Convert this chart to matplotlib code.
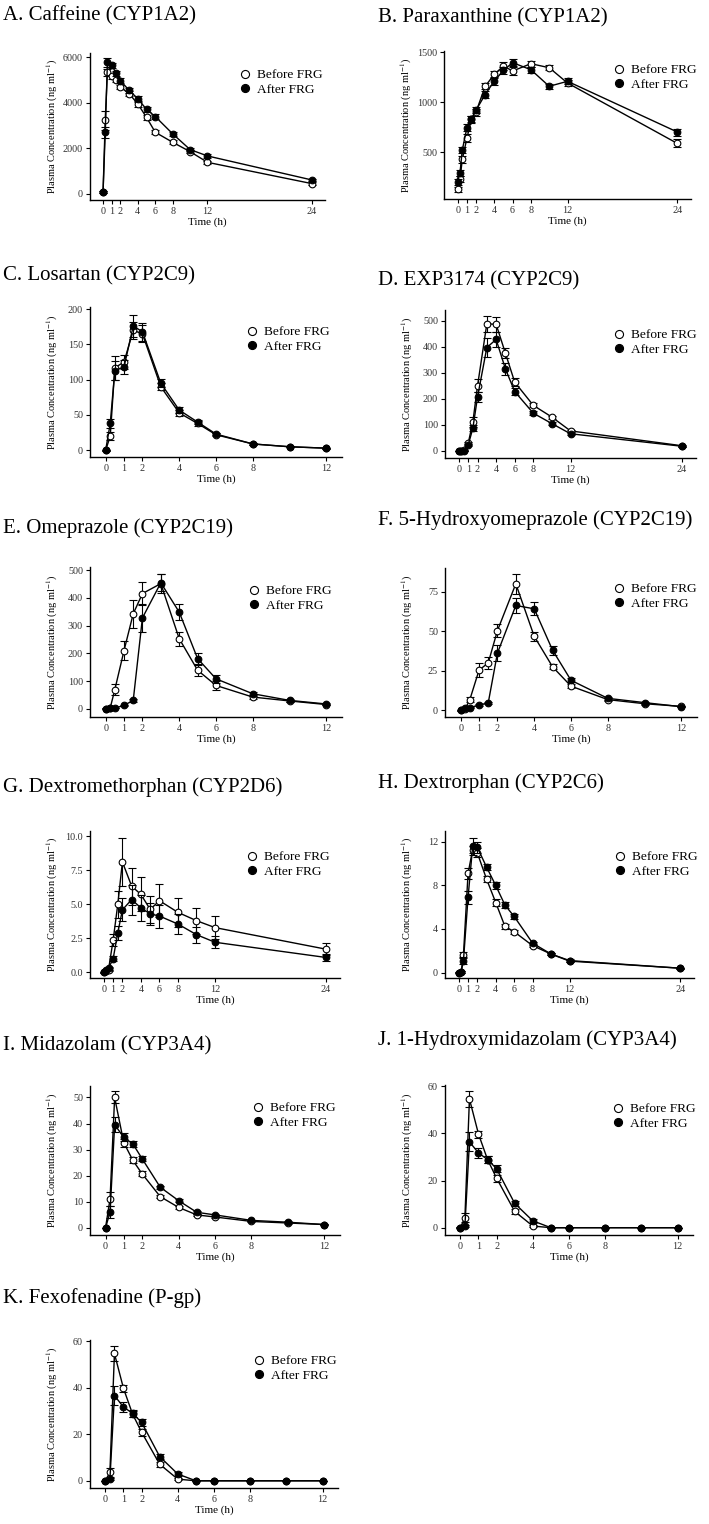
import numpy as np
import matplotlib
matplotlib.use('Agg')
import matplotlib.pyplot as plt
from matplotlib.lines import Line2D

plt.rcParams['font.family'] = ['Liberation Serif', 'DejaVu Serif']
plt.rcParams['mathtext.fontset'] = 'stix'

W, H = 709, 1524

# sampling times (h)
t24 = [0, 0.25, 0.5, 1, 1.5, 2, 3, 4, 5, 6, 8, 10, 12, 24]
t12 = t24[:-1]
ticks24 = [0, 1, 2, 4, 6, 8, 12, 24]
ticks12 = [0, 1, 2, 4, 6, 8, 12]

#A. caffeine
caf_before = [80, 3230, 5350, 5160, 5020, 4690, 4400, 3950, 3360, 2710, 2270, 1860, 1390, 455]
caf_before_sd = [30, 420, 150, 120, 110, 100, 100, 110, 120, 90, 90, 80, 80, 50]
caf_after = [90, 2700, 5780, 5650, 5310, 4970, 4550, 4180, 3710, 3400, 2640, 1950, 1670, 615]
caf_after_sd = [30, 220, 200, 110, 110, 110, 100, 110, 100, 90, 90, 70, 70, 50]

#B. paraxanthine
par_before = [128, 228, 427, 636, 830, 900, 1157, 1277, 1360, 1310, 1383, 1343, 1190, 586]
par_before_sd = [25, 30, 35, 40, 35, 35, 30, 30, 40, 40, 30, 25, 30, 40]
par_after = [205, 294, 520, 742, 835, 918, 1075, 1210, 1317, 1393, 1323, 1157, 1207, 700]
par_after_sd = [30, 30, 30, 35, 30, 30, 35, 35, 35, 35, 30, 25, 30, 35]

#C. losartan
los_before = [0, 20, 117, 125, 170, 165, 90, 53, 38, 22, 9, 5, 3]
los_before_sd = [1, 6, 17, 10, 12, 12, 5, 4, 3, 2, 1, 1, 0.5]
los_after = [0, 38, 113, 118, 176, 168, 95, 57, 40, 23, 9, 5, 3]
los_after_sd = [1, 7, 14, 10, 15, 13, 6, 4, 3, 2, 1, 1, 0.5]

#D. EXP3174
exp_before = [0, 0, 2, 30, 112, 250, 488, 486, 375, 264, 175, 130, 77, 20]
exp_before_sd = [0, 1, 2, 6, 20, 25, 30, 28, 20, 15, 8, 6, 5, 3]
exp_after = [0, 0, 0, 23, 88, 207, 397, 428, 315, 228, 145, 105, 66, 18]
exp_after_sd = [0, 1, 1, 5, 12, 18, 35, 28, 22, 12, 7, 5, 4, 2]

#E. omeprazole
ome_before = [0, 3, 69, 210, 343, 416, 452, 253, 139, 84, 42, 28, 15]
ome_before_sd = [1, 2, 20, 35, 50, 40, 35, 25, 20, 15, 8, 5, 3]
ome_after = [0, 2, 2, 12, 30, 328, 455, 349, 181, 108, 54, 30, 17]
ome_after_sd = [1, 1, 1, 3, 5, 50, 30, 28, 20, 15, 8, 5, 3]

#F. 5-hydroxyomeprazole
hom_before = [0, 1, 6.8, 25.4, 30, 50.4, 80, 46.8, 27.5, 15.3, 6.8, 4.2, 2.5]
hom_before_sd = [0.2, 0.5, 1.5, 4.5, 4, 4, 6.5, 3, 1.5, 1.2, 0.8, 0.6, 0.4]
hom_after = [0, 1.3, 1.7, 3.4, 4.7, 36.2, 66.3, 64.2, 38, 19, 7.6, 4.9, 2.3]
hom_after_sd = [0.2, 0.4, 0.5, 0.6, 0.8, 5, 4.5, 4.2, 2.8, 1.2, 0.8, 0.6, 0.4]

#G. dextromethorphan
dxm_before = [0, 0.1, 0.2, 2.37, 5.0, 8.12, 6.34, 5.73, 4.63, 5.27, 4.41, 3.80, 3.29, 1.70]
dxm_before_sd = [0.02, 0.05, 0.1, 0.45, 1.0, 1.75, 1.35, 1.25, 1.0, 1.2, 1.05, 0.95, 0.85, 0.45]
dxm_after = [0, 0.15, 0.3, 1.0, 2.9, 4.6, 5.35, 4.74, 4.3, 4.14, 3.55, 2.77, 2.21, 1.09]
dxm_after_sd = [0.02, 0.05, 0.1, 0.2, 0.5, 0.85, 1.1, 0.95, 0.8, 0.85, 0.75, 0.6, 0.45, 0.25]

#H. dextrorphan
dxo_before = [0, 0.05, 1.6, 9.1, 11.3, 11.0, 8.6, 6.43, 4.24, 3.75, 2.47, 1.7, 1.1, 0.4]
dxo_before_sd = [0.02, 0.05, 0.3, 0.5, 0.35, 0.4, 0.3, 0.3, 0.2, 0.2, 0.15, 0.1, 0.1, 0.05]
dxo_after = [0, 0.05, 1.1, 6.9, 11.6, 11.5, 9.7, 8.0, 6.2, 5.15, 2.7, 1.7, 1.05, 0.4]
dxo_after_sd = [0.02, 0.05, 0.3, 0.6, 0.8, 0.5, 0.3, 0.3, 0.3, 0.25, 0.15, 0.1, 0.1, 0.05]

#I. midazolam
mdz_before = [0, 11.2, 50.0, 32.7, 25.9, 20.8, 12.0, 7.9, 5.0, 4.2, 2.5, 1.9, 1.3]
mdz_before_sd = [0.1, 2.6, 2.3, 1.5, 1.1, 1.0, 0.7, 0.6, 0.5, 0.5, 0.3, 0.3, 0.2]
mdz_after = [0, 6.1, 39.6, 34.7, 32.2, 26.6, 15.6, 10.5, 6.0, 5.0, 2.9, 2.2, 1.3]
mdz_after_sd = [0.1, 2.2, 3.0, 1.5, 1.3, 1.0, 0.6, 0.6, 0.5, 0.5, 0.3, 0.3, 0.2]

#J. 1-hydroxymidazolam
ohm_before = [0, 4.3, 54.6, 39.7, 28.9, 21.0, 6.9, 0.7, 0, 0, 0, 0, 0]
ohm_before_sd = [0.1, 2.0, 3.3, 1.5, 1.5, 1.5, 1.0, 0.5, 0, 0, 0, 0, 0]
ohm_after = [0, 0.8, 36.4, 31.7, 28.9, 25.0, 10.3, 2.9, 0, 0, 0, 0, 0]
ohm_after_sd = [0.1, 0.5, 4.0, 2.0, 1.5, 1.5, 1.0, 0.8, 0, 0, 0, 0, 0]

#K. fexofenadine
fex_before = [0, 3.7, 54.7, 39.7, 28.7, 20.9, 7.1, 0.7, 0, 0, 0, 0, 0]
fex_before_sd = [0.1, 2.0, 3.3, 1.5, 1.5, 1.5, 1.0, 0.5, 0, 0, 0, 0, 0]
fex_after = [0, 0.7, 36.6, 31.7, 29.0, 25.1, 10.4, 2.9, 0, 0, 0, 0, 0]
fex_after_sd = [0.1, 0.5, 4.0, 2.0, 1.5, 1.5, 1.0, 0.8, 0, 0, 0, 0, 0]

titles = ['A. Caffeine (CYP1A2)', 'B. Paraxanthine (CYP1A2)',
          'C. Losartan (CYP2C9)', 'D. EXP3174 (CYP2C9)',
          'E. Omeprazole (CYP2C19)', 'F. 5-Hydroxyomeprazole (CYP2C19)',
          'G. Dextromethorphan (CYP2D6)', 'H. Dextrorphan (CYP2C6)',
          'I. Midazolam (CYP3A4)', 'J. 1-Hydroxymidazolam (CYP3A4)',
          'K. Fexofenadine (P-gp)']

series = [
    (t24, caf_before, caf_before_sd, caf_after, caf_after_sd, ticks24, [0, 2000, 4000, 6000], (-264, 6190)),
    (t24, par_before, par_before_sd, par_after, par_after_sd, ticks24, [500, 1000, 1500], (30, 1510)),
    (t12, los_before, los_before_sd, los_after, los_after_sd, ticks12, [0, 50, 100, 150, 200], (-9.5, 203)),
    (t24, exp_before, exp_before_sd, exp_after, exp_after_sd, ticks24, [0, 100, 200, 300, 400, 500], (-27, 541)),
    (t12, ome_before, ome_before_sd, ome_after, ome_after_sd, ticks12, [0, 100, 200, 300, 400, 500], (-30, 512)),
    (t12, hom_before, hom_before_sd, hom_after, hom_after_sd, ticks12, [0, 25, 50, 75], (-4.2, 90)),
    (t24, dxm_before, dxm_before_sd, dxm_after, dxm_after_sd, ticks24, [0, 2.5, 5.0, 7.5, 10.0], (-0.42, 10.4)),
    (t24, dxo_before, dxo_before_sd, dxo_after, dxo_after_sd, ticks24, [0, 4, 8, 12], (-0.5, 13.0)),
    (t12, mdz_before, mdz_before_sd, mdz_after, mdz_after_sd, ticks12, [0, 10, 20, 30, 40, 50], (-2.7, 54.4)),
    (t12, ohm_before, ohm_before_sd, ohm_after, ohm_after_sd, ticks12, [0, 20, 40, 60], (-3.1, 60.5)),
    (t12, fex_before, fex_before_sd, fex_after, fex_after_sd, ticks12, [0, 20, 40, 60], (-3.1, 60.5)),
]

#pixel layout: axes left, top, right, bottom, title x, title baseline, legend marker x, legend row y
layout = [
    (90, 53, 325, 200, 3, 20, 245, 77),
    (444, 51, 691, 199, 378, 22, 619, 72),
    (90, 307, 342, 457, 3, 280, 252, 334),
    (445, 310, 696, 458, 378, 285, 619, 337),
    (90, 567, 342, 717, 3, 533, 254, 593),
    (445, 568, 697, 717, 378, 525, 619, 591),
    (90, 831, 340, 978, 3, 792, 252, 859),
    (445, 831, 694, 978, 378, 788, 620, 859),
    (90, 1086, 340, 1235, 3, 1050, 258, 1110),
    (445, 1085, 693, 1235, 378, 1045, 618, 1111),
    (90, 1340, 338, 1488, 3, 1303, 259, 1363),
]

fig = plt.figure(figsize=(W/100, H/100), dpi=100)

for k in range(len(titles)):
    t, b, bsd, a, asd, xt, yt, ylim = series[k]
    l, top, r, bot, tx, ty, mx, my = layout[k]
    ax = fig.add_axes([l/W, 1-bot/H, (r-l)/W, (bot-top)/H])

    ax.errorbar(t, b, yerr=bsd, color='black', lw=1.0, elinewidth=0.8, capsize=3, capthick=0.8,
                marker='o', ms=4.8, mfc='white', mec='black', mew=0.8, zorder=2)
    ax.errorbar(t, a, yerr=asd, color='black', lw=1.0, elinewidth=0.8, capsize=3, capthick=0.8,
                marker='o', ms=4.8, mfc='black', mec='black', mew=0.8, zorder=3)

    if t[-1] == 24:
        ax.set_xlim(-1.5, 25.5)
    else:
        ax.set_xlim(-0.85, 12.85)
    ax.set_ylim(*ylim)
    ax.set_xticks(xt)
    ax.set_xticklabels([str(v) for v in xt])
    ax.set_yticks(yt)
    if k == 6:
        ax.set_yticklabels(['%.1f' % v for v in yt])
    else:
        ax.set_yticklabels([str(int(v)) for v in yt])

    for s in ['top', 'right']:
        ax.spines[s].set_visible(False)
    for s in ['left', 'bottom']:
        ax.spines[s].set_linewidth(1.0)
    ax.tick_params(direction='out', length=3, width=0.8, labelsize=7.3, labelcolor='#333333', pad=2)

    ax.set_xlabel('Time (h)', fontsize=8)
    ax.xaxis.set_label_coords(0.5, -22/(bot-top))
    ax.xaxis.label.set_va('center')
    ax.set_ylabel(r'Plasma Concentration (ng ml$^{-1}$)', fontsize=7.5)
    ax.yaxis.set_label_coords(-38/(r-l), 0.5)
    ax.yaxis.label.set_va('center')

    fig.text(tx/W, 1-ty/H, titles[k], fontsize=15, va='baseline', ha='left')

    handles = [Line2D([], [], ls='none', marker='o', ms=5.8, mfc='white', mec='black', mew=0.8),
               Line2D([], [], ls='none', marker='o', ms=5.8, mfc='black', mec='black', mew=0.8)]
    fig.legend(handles, ['Before FRG', 'After FRG'], loc='upper left',
               bbox_to_anchor=((mx-5)/W, 1-(my-8)/H), bbox_transform=fig.transFigure,
               frameon=False, fontsize=9.6, borderpad=0, borderaxespad=0,
               handlelength=0.8, handletextpad=0.5, labelspacing=0.15)

fig.savefig('out.png', dpi=100)
